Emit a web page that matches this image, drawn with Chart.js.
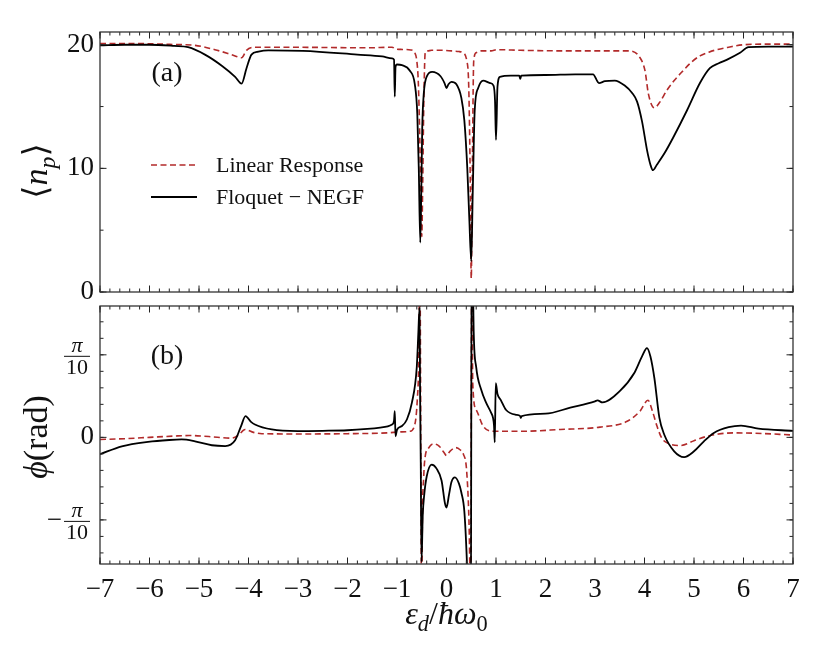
<!DOCTYPE html>
<html>
<head>
<meta charset="utf-8">
<script src="https://cdn.jsdelivr.net/npm/chart.js@4.4.1/dist/chart.umd.min.js"></script>
<style>
  html, body { margin: 0; padding: 0; background: #fff; }
  #wrap { position: relative; width: 830px; height: 664px; background: #fff; }
  #topBox { position: absolute; left: 0; top: 0; width: 830px; height: 300px; }
  #botBox { position: absolute; left: 0; top: 298px; width: 830px; height: 366px; }
</style>
</head>
<body>
<div id="wrap">
  <div id="topBox"><canvas id="occupation"></canvas></div>
  <div id="botBox"><canvas id="phase"></canvas></div>
</div>
<script>
// axis ticks
const xTicks = [-7, -6, -5, -4, -3, -2, -1, 0, 1, 2, 3, 4, 5, 6, 7];
const occTicks = [0, 10, 20];
const phaseTicks = [-Math.PI / 10, 0, Math.PI / 10];
const phaseTickLabels = ["−π/10", "0", "π/10"];
const seriesNames = ["Linear Response", "Floquet − NEGF"];

// panel (a): <n_p>
const lrOccX = [-7, -6.5, -6, -5.5, -5.08, -4.68, -4.34, -4.14, -4.04, -3.87, -3.3, -2.5, -1.6, -1.1, -1.02, -0.9, -0.72, -0.64, -0.6, -0.57, -0.54, -0.52, -0.5, -0.48, -0.46, -0.43, -0.38, -0.3, -0.1, 0.1, 0.25, 0.33, 0.41, 0.45, 0.48, 0.5, 0.52, 0.55, 0.6, 0.7, 0.9, 1.02, 1.5, 2.5, 3.5, 3.7, 3.91, 4.01, 4.08, 4.2, 4.3, 4.45, 4.6, 4.78, 4.95, 5.12, 5.3, 5.46, 5.7, 6.0, 6.5, 7];
const lrOccY = [20.1, 20.1, 20.08, 20.02, 19.95, 19.6, 19.2, 18.95, 19.55, 19.8, 19.8, 19.78, 19.75, 19.8, 19.65, 19.62, 19.58, 19.35, 18.7, 17.0, 12.5, 8.0, 4.5, 9.0, 15.0, 19.35, 19.5, 19.55, 19.55, 19.5, 19.45, 19.35, 18.7, 16.5, 9.0, 1.1, 9.0, 18.7, 19.35, 19.5, 19.5, 19.6, 19.55, 19.5, 19.5, 19.5, 18.95, 17.9, 16.0, 14.9, 15.3, 16.3, 17.1, 17.9, 18.6, 19.1, 19.4, 19.6, 19.8, 20.0, 20.05, 20.05];
const fnOccX = [-7, -6.5, -6, -5.5, -5.22, -4.88, -4.54, -4.27, -4.14, -4.04, -3.94, -3.8, -3.6, -2.9, -1.8, -1.3, -1.1, -1.06, -1.045, -1.03, -1.0, -0.9, -0.74, -0.64, -0.59, -0.56, -0.53, -0.51, -0.49, -0.46, -0.39, -0.29, -0.12, -0.04, 0, 0.04, 0.1, 0.2, 0.3, 0.36, 0.42, 0.46, 0.5, 0.53, 0.57, 0.64, 0.74, 0.88, 0.95, 0.98, 1.0, 1.03, 1.08, 1.3, 1.47, 1.49, 1.51, 2.0, 2.6, 2.96, 3.08, 3.2, 3.4, 3.6, 3.75, 3.85, 3.95, 4.05, 4.12, 4.17, 4.25, 4.4, 4.58, 4.86, 5.12, 5.32, 5.5, 5.67, 5.93, 6.1, 6.5, 7];
const fnOccY = [19.95, 20.0, 20.0, 19.9, 19.8, 19.2, 18.3, 17.4, 16.85, 18.1, 19.2, 19.45, 19.55, 19.5, 19.2, 19.05, 18.9, 18.8, 15.8, 18.2, 18.4, 18.35, 17.9, 16.8, 14.4, 10.0, 4.0, 8.0, 13.3, 16.0, 17.5, 17.8, 17.45, 16.9, 16.5, 16.8, 17.0, 16.8, 15.7, 13.9, 10.0, 6.0, 2.5, 8.0, 14.7, 16.5, 17.1, 16.9, 16.7, 15.5, 12.3, 16.6, 17.4, 17.5, 17.5, 17.25, 17.5, 17.55, 17.6, 17.6, 16.9, 17.05, 17.1, 16.7, 16.1, 15.4, 13.8, 11.5, 10.3, 9.85, 10.3, 11.2, 12.5, 14.7, 16.9, 18.1, 18.5, 18.8, 19.35, 19.8, 19.85, 19.85];

// panel (b): phase (rad)
const lrPhX = [-7, -6.5, -6, -5.5, -5.2, -4.8, -4.34, -4.2, -4.07, -3.9, -3.73, -3.0, -2.0, -1.2, -0.9, -0.74, -0.64, -0.59, -0.56, -0.54, -0.5, -0.49, -0.46, -0.43, -0.37, -0.27, -0.15, -0.05, 0, 0.07, 0.19, 0.28, 0.34, 0.41, 0.46, 0.49, 0.51, 0.53, 0.6, 0.74, 0.95, 1.5, 2.3, 3.1, 3.65, 3.91, 4.07, 4.17, 4.25, 4.35, 4.5, 4.72, 5.0, 5.26, 5.5, 5.79, 6.2, 7];
const lrPhY = [-0.008, -0.005, 0.0, 0.005, 0.007, 0.003, -0.003, 0.009, 0.030, 0.019, 0.014, 0.013, 0.014, 0.017, 0.021, 0.023, 0.049, 0.144, 0.303, 0.7, -0.7, -0.363, -0.149, -0.072, -0.043, -0.025, -0.033, -0.058, -0.069, -0.053, -0.039, -0.048, -0.063, -0.135, -0.363, -0.7, 0.7, 0.206, 0.105, 0.043, 0.023, 0.023, 0.030, 0.039, 0.061, 0.100, 0.141, 0.094, 0.044, -0.003, -0.024, -0.031, -0.013, 0.004, 0.013, 0.017, 0.016, 0.009];
const fnPhX = [-7, -6.56, -6.03, -5.6, -5.35, -5.08, -4.74, -4.47, -4.27, -4.15, -4.06, -3.95, -3.87, -3.53, -3.0, -2.5, -2.0, -1.6, -1.34, -1.1, -1.06, -1.045, -1.03, -1.0, -0.9, -0.8, -0.7, -0.6, -0.57, -0.545, -0.535, -0.52, -0.505, -0.48, -0.45, -0.4, -0.3, -0.2, -0.1, -0.03, 0, 0.05, 0.1, 0.17, 0.25, 0.3, 0.36, 0.41, 0.45, 0.49, 0.51, 0.55, 0.6, 0.7, 0.8, 0.9, 0.94, 0.96, 0.975, 0.995, 1.03, 1.1, 1.2, 1.4, 1.49, 1.5, 1.52, 2.0, 2.5, 3.0, 3.05, 3.15, 3.5, 3.8, 3.95, 4.05, 4.12, 4.2, 4.3, 4.4, 4.6, 4.8, 5.0, 5.2, 5.4, 5.7, 5.95, 6.3, 7];
const fnPhY = [-0.064, -0.034, -0.017, -0.010, -0.008, -0.015, -0.030, -0.033, -0.011, 0.043, 0.081, 0.059, 0.049, 0.030, 0.024, 0.025, 0.027, 0.032, 0.037, 0.049, 0.064, 0.100, 0.004, 0.029, 0.043, 0.068, 0.131, 0.269, 0.392, 0.492, 0.203, -0.097, -0.474, -0.297, -0.219, -0.149, -0.104, -0.119, -0.164, -0.252, -0.267, -0.219, -0.170, -0.152, -0.175, -0.210, -0.281, -0.463, -0.7, -0.9, 0.9, 0.399, 0.267, 0.182, 0.132, 0.094, 0.074, 0.044, -0.019, 0.206, 0.165, 0.141, 0.105, 0.086, 0.081, 0.074, 0.081, 0.090, 0.113, 0.137, 0.141, 0.133, 0.176, 0.247, 0.308, 0.340, 0.308, 0.225, 0.075, 0.010, -0.053, -0.075, -0.053, -0.015, 0.017, 0.039, 0.045, 0.033, 0.025];

const SERIF = "'Liberation Serif', 'DejaVu Serif', serif";
const RED = "#b22a2a";
const INK = "#111";

const toPoints = (xs, ys) => xs.map((v, i) => ({ x: v, y: ys[i] }));

// text with italic / subscript pieces, centred on (cx, cy)
function drawRich(ctx, parts, cx, cy, size, angle) {
  const fontFor = p => (p.it ? "italic " : "") + (p.sub ? size * 0.7 : size) + "px " + SERIF;
  let total = 0;
  const widths = parts.map(p => {
    ctx.font = fontFor(p);
    const w = ctx.measureText(p.t).width;
    total += w;
    return w;
  });
  ctx.save();
  ctx.translate(cx, cy);
  ctx.rotate(angle || 0);
  ctx.textAlign = "left";
  ctx.textBaseline = "alphabetic";
  let xx = -total / 2;
  parts.forEach((p, i) => {
    ctx.font = fontFor(p);
    ctx.fillText(p.t, xx, size * 0.33 + (p.sub ? size * 0.22 : 0));
    xx += widths[i];
  });
  ctx.restore();
}

const decor = {
  id: "decor",
  afterDraw(chart, args, o) {
    const { ctx, chartArea: a } = chart;
    const xs = chart.scales.x, ys = chart.scales.y;
    const line = (x1, y1, x2, y2) => { ctx.beginPath(); ctx.moveTo(x1, y1); ctx.lineTo(x2, y2); ctx.stroke(); };
    ctx.save();
    ctx.strokeStyle = "#222";
    ctx.lineWidth = 1;

    // inward ticks on all four sides
    const tickX = (v, len) => { const p = xs.getPixelForValue(v); line(p, a.bottom, p, a.bottom - len); line(p, a.top, p, a.top + len); };
    const tickY = (v, len) => { const p = ys.getPixelForValue(v); line(a.left, p, a.left + len, p); line(a.right, p, a.right - len, p); };
    for (let k = Math.ceil(xs.min / 0.2 - 1e-6); k * 0.2 <= xs.max + 1e-6; k++) tickX(k * 0.2, 3.5);
    xTicks.forEach(v => tickX(v, 6.5));
    for (let k = Math.ceil(ys.min / o.yMinor - 1e-6); k * o.yMinor <= ys.max + 1e-6; k++) tickY(k * o.yMinor, 3.5);
    ys.ticks.forEach(t => tickY(t.value, 6.5));

    // frame
    ctx.strokeStyle = "#333";
    ctx.lineWidth = 1.3;
    ctx.strokeRect(a.left, a.top, a.right - a.left, a.bottom - a.top);

    ctx.fillStyle = INK;
    // panel tag
    ctx.font = "28px " + SERIF;
    ctx.textAlign = "center";
    ctx.textBaseline = "middle";
    ctx.fillText(o.tag, o.tagX, o.tagY);

    // axis titles
    drawRich(ctx, o.yTitle, 36, o.yTitleY, 34, -Math.PI / 2);
    if (o.xTitle) drawRich(ctx, o.xTitle, (a.left + a.right) / 2, o.xTitleY, 32, 0);

    // fraction tick labels for the phase axis
    if (o.fractions) {
      ys.ticks.forEach((t, i) => {
        const lab = phaseTickLabels[i];
        const py = ys.getPixelForValue(t.value);
        ctx.textBaseline = "middle";
        if (!lab.includes("/")) {
          ctx.font = "27px " + SERIF;
          ctx.textAlign = "right";
          ctx.fillText(lab, a.left - 6, py);
          return;
        }
        const neg = lab.startsWith("−");
        const [num, den] = lab.replace("−", "").split("/");
        const cx = 77;
        const by = py + o.fracShift;
        ctx.textAlign = "center";
        ctx.font = "italic 22px " + SERIF;
        ctx.fillText(num, cx, by - 10);
        ctx.font = "22px " + SERIF;
        ctx.fillText(den, cx, by + 12);
        ctx.lineWidth = 1;
        ctx.strokeStyle = INK;
        line(cx - 13, by + 0.5, cx + 13, by + 0.5);
        if (neg) {
          ctx.font = "27px " + SERIF;
          ctx.textAlign = "right";
          ctx.fillText("−", cx - 15, by);
        }
      });
    }

    // legend
    if (o.legend) {
      chart.data.datasets.forEach((ds, i) => {
        const ly = o.legendY + i * 32;
        ctx.strokeStyle = ds.borderColor;
        ctx.lineWidth = ds.borderWidth;
        ctx.setLineDash(ds.borderDash || []);
        line(151, ly, 197, ly);
        ctx.setLineDash([]);
        ctx.fillStyle = INK;
        ctx.font = "22px " + SERIF;
        ctx.textAlign = "left";
        ctx.textBaseline = "middle";
        ctx.fillText(ds.label, 216, ly + 1);
      });
    }
    ctx.restore();
  }
};

const lineDefaults = {
  animation: false,
  responsive: true,
  maintainAspectRatio: false,
  elements: { point: { radius: 0 }, line: { cubicInterpolationMode: "monotone", fill: false } },
};

const noEdgePadding = s => { s.paddingTop = 0; s.paddingBottom = 0; };

new Chart(document.getElementById("occupation"), {
  type: "line",
  data: {
    datasets: [
      { label: seriesNames[0], data: toPoints(lrOccX, lrOccY), borderColor: RED, borderDash: [6, 3.5], borderWidth: 1.6, order: 1, clip: 0 },
      { label: seriesNames[1], data: toPoints(fnOccX, fnOccY), borderColor: "#000", borderWidth: 1.8, order: 0, clip: 0 },
    ],
  },
  options: {
    ...lineDefaults,
    layout: { padding: { top: 32, right: 37, bottom: 8, left: 0 } },
    scales: {
      x: { type: "linear", min: -7, max: 7, display: false },
      y: {
        min: 0,
        max: 21.03,
        afterBuildTicks: s => { s.ticks = occTicks.map(v => ({ value: v })); },
        afterFit: s => { s.width = 100; noEdgePadding(s); },
        grid: { display: false, drawTicks: false },
        border: { display: false },
        ticks: { padding: 6, color: INK, font: { size: 27, family: SERIF } },
      },
    },
    plugins: {
      legend: { display: false },
      tooltip: { enabled: false },
      decor: {
        tag: "(a)", tagX: 167, tagY: 74, yMinor: 5,
        yTitle: [{ t: "⟨" }, { t: "n", it: true }, { t: "p", it: true, sub: true }, { t: "⟩" }],
        yTitleY: 171,
        legend: true, legendY: 165,
      },
    },
  },
  plugins: [decor],
});

new Chart(document.getElementById("phase"), {
  type: "line",
  data: {
    datasets: [
      { label: seriesNames[0], data: toPoints(lrPhX, lrPhY), borderColor: RED, borderDash: [6, 3.5], borderWidth: 1.6, order: 1, clip: 0 },
      { label: seriesNames[1], data: toPoints(fnPhX, fnPhY), borderColor: "#000", borderWidth: 1.8, order: 0, clip: 0 },
    ],
  },
  options: {
    ...lineDefaults,
    layout: { padding: { top: 8, right: 37, bottom: 0, left: 0 } },
    scales: {
      x: {
        type: "linear",
        min: -7,
        max: 7,
        afterBuildTicks: s => { s.ticks = xTicks.map(v => ({ value: v })); },
        afterFit: s => { s.height = 100; },
        grid: { display: false, drawTicks: false },
        border: { display: false },
        ticks: {
          padding: 10, color: INK, autoSkip: false, maxRotation: 0,
          font: { size: 27, family: SERIF },
          callback: v => (v < 0 ? "−" + Math.abs(v) : String(v)),
        },
      },
      y: {
        min: -0.482,
        max: 0.5,
        afterBuildTicks: s => { s.ticks = phaseTicks.map(v => ({ value: v })); },
        afterFit: s => { s.width = 100; noEdgePadding(s); },
        grid: { display: false, drawTicks: false },
        border: { display: false },
        ticks: { display: false },
      },
    },
    plugins: {
      legend: { display: false },
      tooltip: { enabled: false },
      decor: {
        tag: "(b)", tagX: 167, tagY: 59, yMinor: Math.PI / 50,
        yTitle: [{ t: "ϕ", it: true }, { t: "(rad)" }],
        yTitleY: 139,
        xTitle: [{ t: "ε", it: true }, { t: "d", it: true, sub: true }, { t: "/" }, { t: "ħ", it: true }, { t: "ω", it: true }, { t: "0", sub: true }],
        xTitleY: 315,
        fractions: true, fracShift: 1,
      },
    },
  },
  plugins: [decor],
});
</script>
</body>
</html>
